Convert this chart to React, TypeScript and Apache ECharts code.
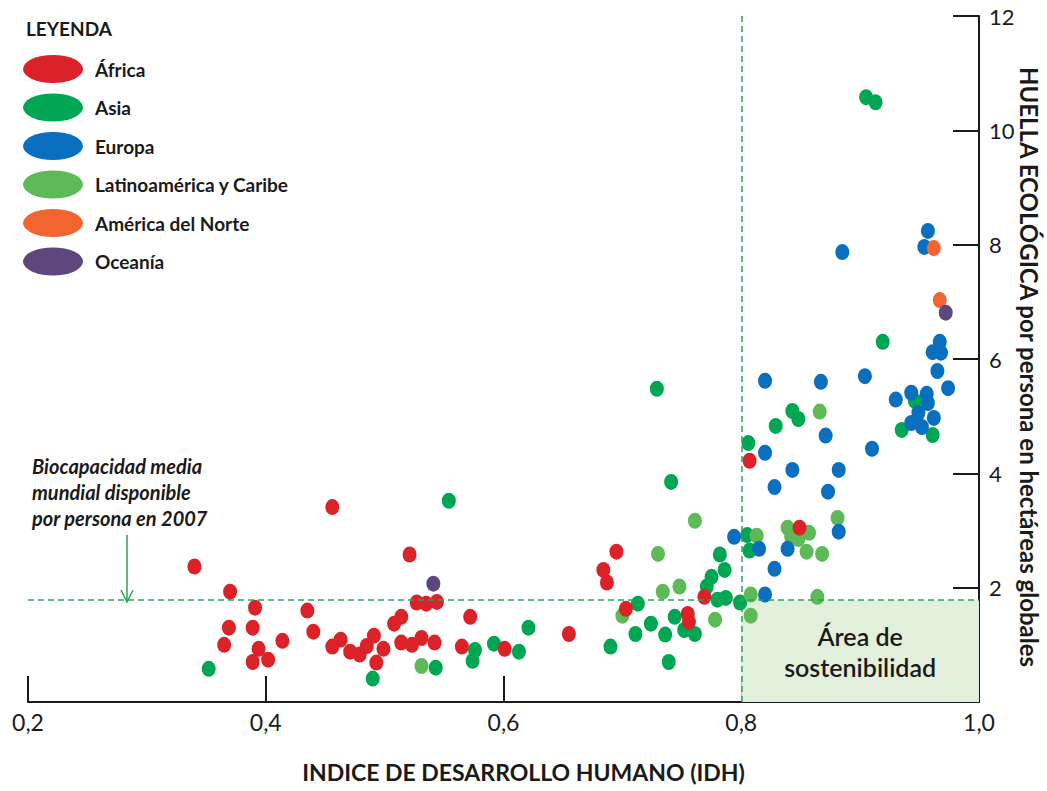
import React, { useEffect, useRef } from "react";
import * as echarts from "echarts";

type P = [number, number];

const X_TICKS = [0.2, 0.4, 0.6, 0.8, 1.0];
const Y_TICKS = [2, 4, 6, 8, 10, 12];
const BIOCAPACITY = 1.78;
const IDH_THRESHOLD = 0.8;

const AFRICA: P[] = [
  [0.34, 2.37], [0.37, 1.93], [0.391, 1.65], [0.369, 1.3], [0.389, 1.3], [0.365, 1.0],
  [0.394, 0.93], [0.389, 0.7], [0.402, 0.74], [0.414, 1.07], [0.435, 1.6], [0.44, 1.23],
  [0.456, 3.41], [0.456, 0.97], [0.463, 1.09], [0.471, 0.88], [0.479, 0.83], [0.485, 0.98],
  [0.491, 1.16], [0.499, 0.93], [0.493, 0.69], [0.508, 1.37], [0.514, 1.49], [0.514, 1.04],
  [0.523, 1.0], [0.531, 1.12], [0.542, 1.04], [0.527, 1.74], [0.535, 1.72], [0.544, 1.75],
  [0.521, 2.58], [0.572, 1.49], [0.565, 0.97], [0.601, 0.93], [0.655, 1.19], [0.695, 2.63],
  [0.684, 2.31], [0.687, 2.09], [0.703, 1.63], [0.755, 1.54], [0.756, 1.4], [0.769, 1.84],
  [0.807, 4.22], [0.849, 3.05],
];

const ASIA: P[] = [
  [0.352, 0.58], [0.49, 0.41], [0.543, 0.6], [0.554, 3.52], [0.576, 0.91], [0.574, 0.72],
  [0.592, 1.02], [0.613, 0.88], [0.621, 1.3], [0.69, 0.97], [0.711, 1.19], [0.713, 1.72],
  [0.724, 1.37], [0.736, 1.18], [0.739, 0.7], [0.744, 1.49], [0.752, 1.26], [0.761, 1.19],
  [0.741, 3.85], [0.729, 5.48], [0.775, 2.19], [0.771, 2.02], [0.782, 2.58], [0.786, 2.31],
  [0.78, 1.79], [0.787, 1.82], [0.799, 1.74], [0.805, 2.92], [0.807, 2.65], [0.806, 4.53],
  [0.829, 4.83], [0.843, 5.09], [0.848, 4.95], [0.919, 6.3], [0.905, 10.58], [0.913, 10.49],
  [0.935, 4.76], [0.946, 5.27], [0.961, 4.67],
];

const EUROPA: P[] = [
  [0.794, 2.89], [0.815, 2.68], [0.82, 1.88], [0.828, 2.33], [0.839, 2.68], [0.882, 2.98],
  [0.82, 5.62], [0.867, 5.6], [0.904, 5.7], [0.82, 4.36], [0.843, 4.06], [0.828, 3.76],
  [0.871, 4.66], [0.882, 4.06], [0.873, 3.68], [0.91, 4.43], [0.885, 7.87], [0.957, 8.24],
  [0.954, 7.96], [0.967, 6.3], [0.961, 6.12], [0.968, 6.11], [0.965, 5.79], [0.974, 5.49],
  [0.93, 5.29], [0.943, 5.41], [0.956, 5.39], [0.957, 5.23], [0.949, 5.06], [0.962, 4.97],
  [0.943, 4.88], [0.952, 4.81],
];

const LATINOAMERICA: P[] = [
  [0.531, 0.63], [0.7, 1.51], [0.73, 2.59], [0.734, 1.93], [0.748, 2.02], [0.761, 3.17],
  [0.778, 1.44], [0.808, 1.88], [0.808, 1.51], [0.813, 2.91], [0.839, 3.05], [0.842, 2.89],
  [0.848, 2.85], [0.857, 2.96], [0.855, 2.63], [0.868, 2.59], [0.864, 1.84], [0.866, 5.08],
  [0.881, 3.22],
];

const NORTEAMERICA: P[] = [[0.962, 7.94], [0.967, 7.03]];

const OCEANIA: P[] = [[0.541, 2.07], [0.972, 6.81]];

const FONT = "Lato";
const ELLIPSE = "path://M0,50 A50,50 0 1,1 100,50 A50,50 0 1,1 0,50 Z";
const LINE_GREEN = "#27a658";

export default function App() {
  const ref = useRef<HTMLDivElement>(null);
  useEffect(() => {
    if (!ref.current) return;
    const chart = echarts.init(ref.current, undefined, { renderer: "svg" });
    const pts = (name: string, data: P[], color: string) => ({
      name,
      type: "scatter",
      data,
      symbol: ELLIPSE,
      symbolSize: [14, 16],
      itemStyle: { color, opacity: 1 },
      z: 3,
    });
    chart.setOption({
      animation: false,
      backgroundColor: "#ffffff",
      textStyle: { fontFamily: FONT },
      title: {
        text: "LEYENDA",
        left: 21,
        top: 14,
        textStyle: { fontFamily: FONT, fontSize: 19, fontWeight: "bold", color: "#1a1a1a" },
      },
      legend: {
        orient: "vertical",
        left: 18,
        top: 50,
        itemWidth: 60,
        itemHeight: 28,
        itemGap: 10.5,
        icon: ELLIPSE,
        symbolKeepAspect: false,
        data: ["África", "Asia", "Europa", "Latinoamérica y Caribe", "América del Norte", "Oceanía"],
        textStyle: {
          fontFamily: FONT,
          fontSize: 19,
          fontWeight: "bold",
          color: "#1a1a1a",
          padding: [0, 0, 0, 7],
        },
      },
      grid: { left: 28, right: 68, top: 16, bottom: 89, containLabel: false, outerBoundsMode: "none" },
      xAxis: {
        type: "value",
        min: X_TICKS[0],
        max: X_TICKS[X_TICKS.length - 1],
        interval: 0.2,
        name: "INDICE DE DESARROLLO HUMANO (IDH)",
        nameLocation: "middle",
        nameGap: 58,
        nameMoveOverlap: false,
        nameTextStyle: {
          fontFamily: FONT,
          fontSize: 23,
          fontWeight: "bold",
          color: "#1a1a1a",
          padding: [0, 0, 0, 40],
        },
        axisLine: { show: true, lineStyle: { color: "#1a1a1a", width: 2 } },
        axisTick: { show: true, inside: true, length: 26, lineStyle: { color: "#1a1a1a", width: 2 } },
        axisLabel: {
          fontFamily: FONT,
          fontSize: 23,
          color: "#1a1a1a",
          margin: 8,
          formatter: (v: number) => v.toFixed(1).replace(".", ","),
        },
        splitLine: { show: false },
      },
      yAxis: {
        type: "value",
        position: "right",
        min: 0,
        max: Y_TICKS[Y_TICKS.length - 1],
        interval: 2,
        name: "HUELLA ECOLÓGICA por persona en hectáreas globales",
        nameLocation: "middle",
        nameRotate: -90,
        nameGap: 38,
        nameMoveOverlap: false,
        nameTextStyle: {
          fontFamily: FONT,
          fontSize: 24,
          fontWeight: "bold",
          color: "#1a1a1a",
          padding: [0, 0, 0, 16],
        },
        axisLine: { show: true, onZero: false, lineStyle: { color: "#1a1a1a", width: 2 } },
        axisTick: { show: true, inside: true, length: 26, lineStyle: { color: "#1a1a1a", width: 2 } },
        axisLabel: {
          fontFamily: FONT,
          fontSize: 22,
          color: "#1a1a1a",
          margin: 10,
          formatter: (v: number) => (v === 0 ? "" : String(v)),
        },
        splitLine: { show: false },
      },
      graphic: [
        {
          type: "text",
          left: 32,
          top: 453,
          style: {
            text: "Biocapacidad media\nmundial disponible\npor persona en 2007",
            fontFamily: FONT,
            fontSize: 20,
            fontWeight: "bold",
            fontStyle: "italic",
            lineHeight: 26,
            fill: "#1a1a1a",
          },
        },
        {
          type: "line",
          shape: { x1: 127, y1: 535, x2: 127, y2: 601 },
          style: { stroke: LINE_GREEN, lineWidth: 1.5 },
        },
        {
          type: "polyline",
          shape: { points: [[121, 590], [127, 602], [133, 590]] },
          style: { stroke: LINE_GREEN, lineWidth: 1.5, fill: "none" },
        },
      ],
      series: [
        {
          name: "zonas",
          type: "scatter",
          data: [],
          z: 1,
          markArea: {
            silent: true,
            itemStyle: { color: "#e2efda" },
            label: {
              show: true,
              position: "inside",
              formatter: "Área de\nsostenibilidad",
              fontFamily: FONT,
              fontSize: 25,
              fontWeight: 600,
              lineHeight: 31,
              color: "#1a1a1a",
            },
            data: [[{ xAxis: IDH_THRESHOLD, yAxis: 0 }, { xAxis: 1.0, yAxis: BIOCAPACITY }]],
          },
          markLine: {
            silent: true,
            symbol: "none",
            label: { show: false },
            lineStyle: { color: LINE_GREEN, type: [6, 4], width: 1.5 },
            data: [{ yAxis: BIOCAPACITY }, { xAxis: IDH_THRESHOLD }],
          },
        },
        pts("Asia", ASIA, "#00a651"),
        pts("Latinoamérica y Caribe", LATINOAMERICA, "#5cbb56"),
        pts("África", AFRICA, "#dc2229"),
        pts("Europa", EUROPA, "#0b6fc0"),
        pts("América del Norte", NORTEAMERICA, "#f26531"),
        pts("Oceanía", OCEANIA, "#5e477c"),
      ],
    });
    return () => chart.dispose();
  }, []);
  return (
    <div
      ref={ref}
      style={{ position: "absolute", left: 0, top: 0, width: 1047, height: 791 }}
    />
  );
}
